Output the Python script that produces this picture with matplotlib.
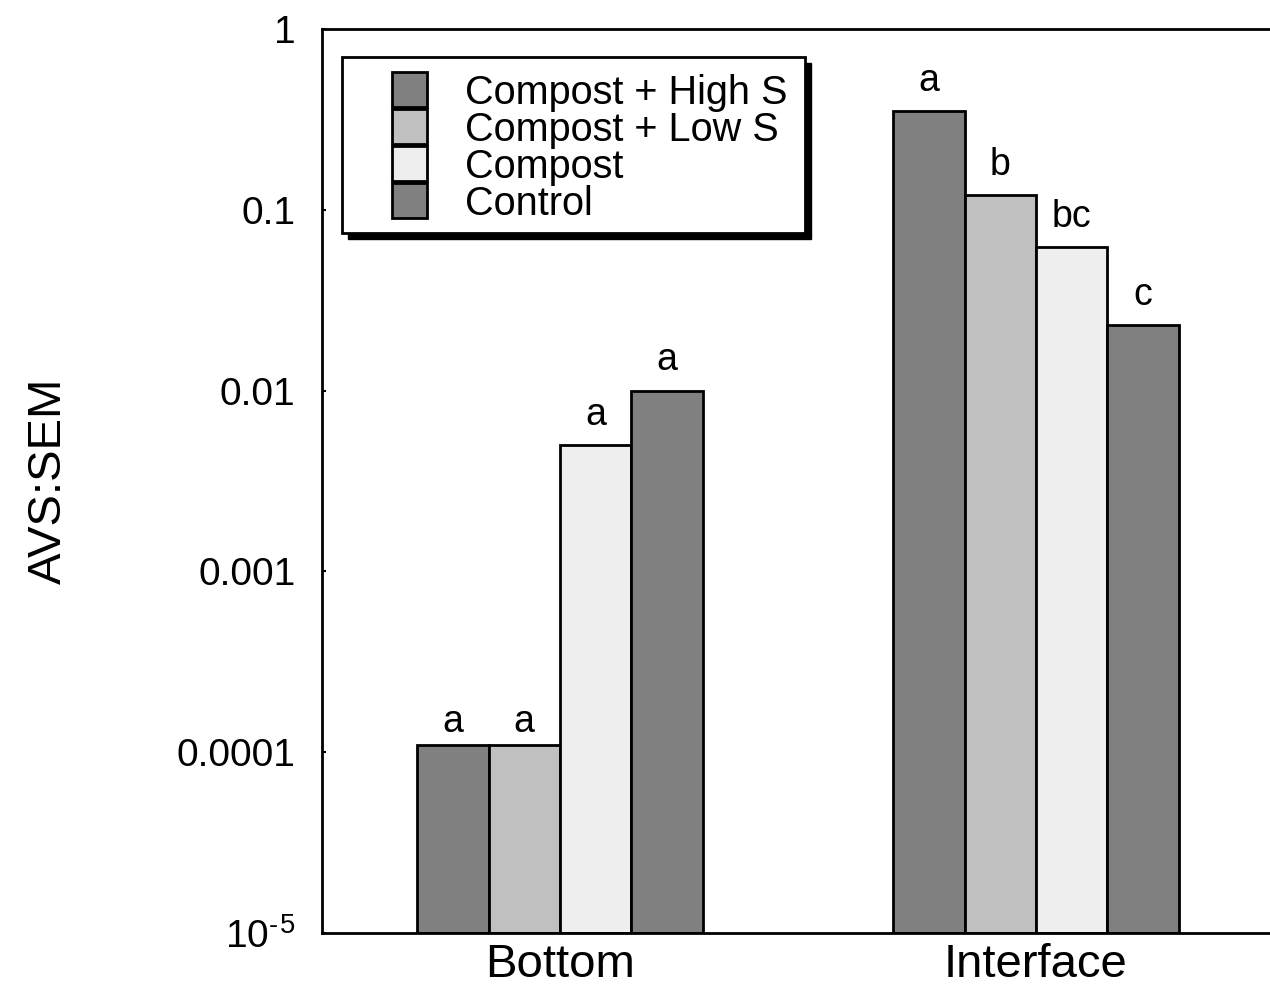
import matplotlib
matplotlib.use("Agg")
import matplotlib.pyplot as plt
from matplotlib.patches import Rectangle
import numpy as np

plt.rcParams['font.family'] = ['Liberation Sans', 'DejaVu Sans']
plt.rcParams['mathtext.fontset'] = 'custom'
plt.rcParams['mathtext.rm'] = 'Liberation Sans'

groups = ["Bottom", "Interface"]
series = ["Compost + High S", "Compost + Low S", "Compost", "Control"]
values = {
    "Compost + High S": [0.0001, 0.35],
    "Compost + Low S": [0.0001, 0.12],
    "Compost": [0.005, 0.062],
    "Control": [0.01, 0.023],
}
letters = {
    "Compost + High S": ["a", "a"],
    "Compost + Low S": ["a", "b"],
    "Compost": ["a", "bc"],
    "Control": ["a", "c"],
}
colors = ["#808080", "#c0c0c0", "#eeeeee", "#808080"]
ytick_vals = [1e-5, 1e-4, 1e-3, 1e-2, 1e-1, 1]
ytick_labels = ["10$^{\\mathregular{\u2010\u200a5}}$", "0.0001", "0.001", "0.01", "0.1", "1"]

fig = plt.figure(figsize=(12.7, 9.88), dpi=100)
ax = fig.add_axes([322/1270, 55/988, 952/1270, 904/988])
ax.set_yscale("log")
ax.set_ylim(1e-5, 1)
ax.set_xlim(-0.5, 1.5)

x = np.arange(len(groups))
w = 0.15
for i, s in enumerate(series):
    pos = x + (i - 1.5) * w
    ax.bar(pos, values[s], width=w, bottom=1e-5, color=colors[i],
           edgecolor="black", linewidth=2, zorder=2)
    for xp, v, t in zip(pos, values[s], letters[s]):
        ax.annotate(t, (xp, v), xytext=(0, 9), textcoords="offset points",
                    ha="center", va="bottom", fontsize=27)

ax.set_yticks(ytick_vals)
ax.set_yticklabels(ytick_labels, fontsize=28)
ax.yaxis.set_minor_locator(matplotlib.ticker.NullLocator())
ax.set_xticks(x)
ax.set_xticklabels(groups, fontsize=34)
ax.tick_params(axis="x", length=0, pad=7)
ax.tick_params(axis="y", direction="in", length=3, width=1.5, pad=19)
ax.set_ylabel("AVS:SEM", fontsize=34, labelpad=76)
for sp in ax.spines.values():
    sp.set_linewidth(2)

# legend (manual, with shadow)
lx0, ly0, lw, lh = 20/952, 1 - 204/904, 463/952, 176/904
ax.add_patch(Rectangle((lx0 + 6/952, ly0 - 6/904), lw, lh, transform=ax.transAxes,
                       facecolor="black", edgecolor="black", zorder=4, clip_on=False))
ax.add_patch(Rectangle((lx0, ly0), lw, lh, transform=ax.transAxes,
                       facecolor="white", edgecolor="black", linewidth=2, zorder=5, clip_on=False))
row_h = 37/904
for i, s in enumerate(series):
    ytop = 1 - (43 + i * row_h * 904) / 904
    ax.add_patch(Rectangle((70/952, ytop - 35/904), 35/952, 35/904, transform=ax.transAxes,
                           facecolor=colors[i], edgecolor="black", linewidth=2, zorder=6))
    ax.text(143/952, ytop - 21/904, s, transform=ax.transAxes, fontsize=28.5,
            va="center", ha="left", zorder=7)

fig.savefig("out.png", dpi=100)
